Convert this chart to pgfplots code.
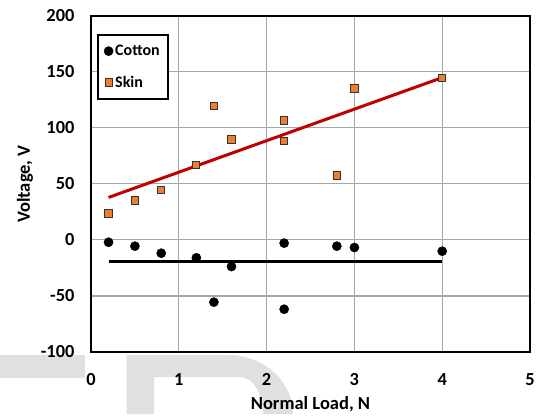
\documentclass[border=0pt]{standalone}
\usepackage{pgfplots}
\pgfplotsset{compat=1.18}
\usepackage{fontspec}
\setmainfont{Carlito}
\definecolor{skinC}{HTML}{ED7D31}
\definecolor{fitC}{HTML}{C00000}
\definecolor{gridC}{HTML}{A6A6A6}
\definecolor{wmC}{HTML}{E0E0E0}

\begin{document}
\begin{tikzpicture}
  % light grey watermark shapes behind the bottom of the chart
  \fill[wmC] (-91pt,-3pt) rectangle (-6pt,-26pt);
  \fill[wmC] (35.7pt,-62pt) -- (35.7pt,-3pt) -- (137pt,-3pt)
    arc[start angle=90, end angle=0, x radius=65pt, y radius=59pt]
    -- (172pt,-62pt)
    arc[start angle=0, end angle=90, x radius=23pt, y radius=37pt]
    -- (63pt,-25pt) -- (63pt,-62pt) -- cycle;
  \path (-91pt,-62pt) rectangle (449pt,352pt);

  \begin{axis}[
      width=439pt, height=336pt, scale only axis,
      xmin=0, xmax=5, ymin=-100, ymax=200,
      xtick={0,1,2,3,4,5}, xticklabels={0,1,2,3,4,5},
      ytick={-100,-50,0,50,100,150,200},
      yticklabels={-100,-50,0,50,100,150,200},
      grid=major, major grid style={gridC, line width=1pt},
      axis line style={black, line width=2pt},
      major tick length=0pt,
      tick label style={font=\bfseries\fontsize{18.4}{22}\selectfont},
      xticklabel style={yshift=-18pt},
      yticklabel style={xshift=-13pt},
      label style={font=\bfseries\fontsize{18.5}{22}\selectfont},
      xlabel={Normal Load, N}, ylabel={Voltage, V},
      xlabel style={at={(axis description cs:0.5,0)}, anchor=center, yshift=-52.5pt},
      ylabel style={at={(axis description cs:0,0.5)}, anchor=center, xshift=0pt, yshift=66pt},
      legend style={at={(0.0137,0.946)}, anchor=north west, draw=black,
        line width=2pt, font=\bfseries\fontsize{16}{19}\selectfont,
        row sep=15pt, inner ysep=8pt, inner xsep=6pt},
      legend cell align=left,
    ]
    \addplot[fitC, line width=3pt, forget plot] coordinates {(0.2,38) (4.0,145)};
    \addplot[black, line width=3pt, forget plot] coordinates {(0.2,-19) (4.0,-19)};

    \addplot[only marks, mark=*, mark size=4.6pt,
      mark options={fill=black, draw=black, line width=0.4pt}] coordinates {
      (0.2,-2) (0.5,-5.5) (0.8,-11.8) (1.2,-15.9) (1.4,-55.5) (1.6,-23.7)
      (2.2,-2.8) (2.2,-61.8) (2.8,-5.5) (3.0,-6.7) (4.0,-10)
    };
    \addlegendentry{Cotton}
    \addplot[only marks, mark=square*, mark size=3.6pt,
      mark options={fill=skinC, draw=black!80, line width=1pt}] coordinates {
      (0.2,23.7) (0.5,35.3) (0.8,44.8) (1.2,67.1) (1.4,119.5) (1.6,89.7)
      (2.2,106.7) (2.2,88.6) (2.8,57.6) (3.0,135.3) (4.0,144.8)
    };
    \addlegendentry{Skin}
  \end{axis}
\end{tikzpicture}
\end{document}
